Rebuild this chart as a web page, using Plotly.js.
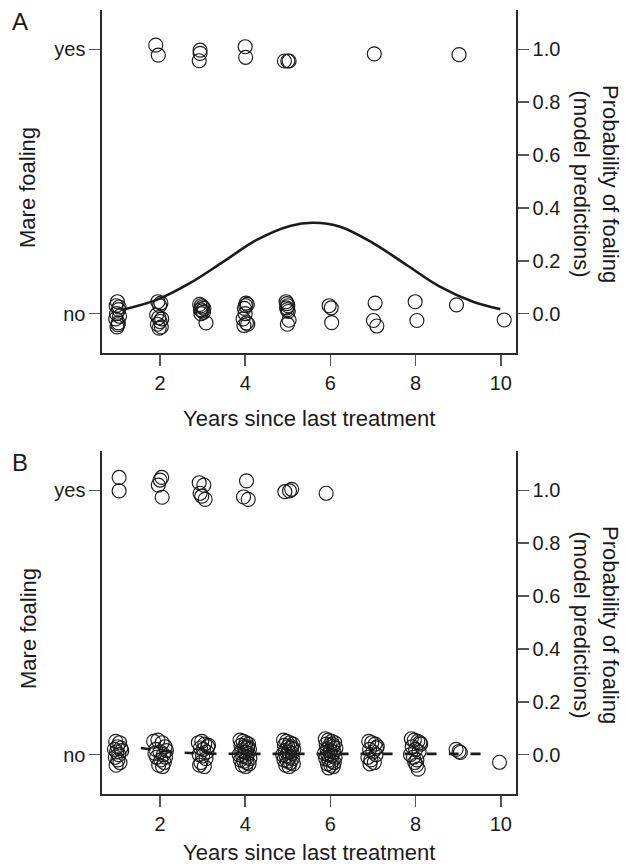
<!DOCTYPE html>
<html>
<head>
<meta charset="utf-8">
<script src="https://cdn.plot.ly/plotly-3.0.1.min.js"></script>
<style>html,body{margin:0;padding:0;background:#fff;}#chart{width:634px;height:868px;}</style>
</head>
<body>
<div id="chart"></div>
<script>
// ---------- Panel A data ----------
const aYesX = [1.90, 1.96, 2.94, 2.94, 2.92, 4.00, 4.01, 4.92, 5.00, 5.03, 7.03, 9.02];
const aYesY = [1.016, 0.978, 0.997, 0.985, 0.957, 1.010, 0.970, 0.956, 0.956, 0.956, 0.983, 0.980];

const aNoX = [1.00, 0.97, 1.03, 0.98, 1.05, 0.96, 1.02, 0.99, 1.04, 1.01,
              1.95, 2.02, 1.99, 1.92, 1.97, 2.04, 2.00, 1.94, 2.03, 1.98,
              2.93, 2.97, 3.00, 3.03, 2.95, 2.99, 3.02, 2.96, 3.08,
              4.02, 4.05, 3.98, 4.00, 3.95, 4.03, 3.97, 4.06, 4.01,
              4.96, 4.98, 5.00, 4.97, 4.99, 5.01, 5.03, 4.99,
              5.97, 6.02, 6.03,
              7.05, 7.01, 7.09,
              7.99, 8.03,
              8.96,
              10.08];
const aNoY = [0.045, 0.030, 0.015, 0.000, -0.010, -0.020, -0.035, -0.050, 0.025, -0.042,
              0.045, 0.040, 0.030, -0.005, -0.015, -0.020, -0.030, -0.040, -0.050, -0.055,
              0.035, 0.030, 0.025, 0.020, 0.015, 0.010, 0.005, 0.000, -0.035,
              0.040, 0.035, 0.020, 0.000, -0.020, -0.035, -0.045, -0.040, 0.030,
              0.045, 0.038, 0.030, 0.022, 0.015, 0.008, -0.025, -0.040,
              0.030, 0.022, -0.034,
              0.040, -0.026, -0.047,
              0.045, -0.026,
              0.033,
              -0.024];

const aCurveX = [1.10, 1.92, 2.70, 3.49, 4.27, 5.05, 5.60, 6.23, 7.01, 7.79, 8.57, 9.35, 9.99];
const aCurveY = [0.014, 0.052, 0.115, 0.197, 0.279, 0.332, 0.344, 0.329, 0.266, 0.184, 0.102, 0.045, 0.017];

// ---------- Panel B data ----------
const bYesX = [1.04, 1.04, 2.04, 2.00, 1.96, 2.05, 2.92, 3.03, 2.94, 2.98, 3.06, 4.03, 3.96, 4.07, 4.93, 5.04, 5.09, 5.90];
const bYesY = [1.049, 0.998, 1.049, 1.039, 1.020, 0.974, 1.029, 1.020, 0.989, 0.978, 0.966, 1.036, 0.975, 0.966, 0.995, 0.998, 1.004, 0.989];

const bNoX = [0.96, 1.05, 1.00, 0.93, 1.08, 0.98, 1.03, 0.95, 1.10, 1.01, 0.97, 1.06,
              1.85, 1.95, 2.05, 2.12, 1.90, 2.00, 2.08, 2.15, 1.92, 2.02, 2.10, 1.97, 2.06, 1.88, 2.13,
              2.90, 2.98, 3.05, 3.12, 2.95, 3.02, 3.10, 2.92, 3.00, 3.08, 2.96, 3.04, 2.93, 3.14,
              3.88, 3.95, 4.02, 4.08, 3.90, 3.98, 4.05, 4.10, 3.92, 4.00, 4.07, 3.86, 3.94, 4.03, 4.11, 3.89, 3.97, 4.04, 4.09, 3.93, 4.01, 4.06,
              4.90, 4.97, 5.05, 5.12, 4.92, 5.00, 5.08, 5.14, 4.94, 5.02, 5.10, 4.88, 4.96, 5.04, 5.11, 4.91, 4.99, 5.06, 5.13, 4.95, 5.03, 5.09,
              5.88, 5.95, 6.03, 6.10, 5.90, 5.98, 6.06, 6.13, 5.92, 6.00, 6.08, 5.86, 5.94, 6.02, 6.11, 5.89, 5.97, 6.04, 6.09, 5.93, 6.01, 6.07, 5.96, 6.05,
              6.90, 6.97, 7.05, 7.10, 6.92, 7.00, 7.07, 6.88, 6.95, 7.03, 6.93, 7.08,
              7.90, 7.97, 8.05, 8.12, 7.92, 8.00, 8.08, 7.88, 7.95, 8.03, 8.10, 8.02, 8.06, 7.98,
              8.95, 9.02, 9.05,
              9.97];
const bNoY = [0.050, 0.045, 0.030, 0.020, 0.025, 0.010, 0.000, -0.010, 0.015, -0.020, -0.040, -0.030,
              0.050, 0.055, 0.045, 0.030, 0.020, 0.010, 0.000, 0.015, -0.010, -0.020, -0.030, -0.040, -0.045, 0.005, -0.010,
              0.045, 0.050, 0.040, 0.030, 0.025, 0.020, 0.010, 0.000, -0.005, -0.015, -0.030, -0.045, -0.040, 0.035,
              0.055, 0.050, 0.045, 0.040, 0.035, 0.030, 0.025, 0.020, 0.015, 0.010, 0.005, 0.000, -0.005, -0.010, -0.015, -0.020, -0.025, -0.030, -0.035, -0.040, -0.045, 0.030,
              0.055, 0.050, 0.045, 0.040, 0.035, 0.030, 0.025, 0.020, 0.015, 0.010, 0.005, 0.000, -0.005, -0.010, -0.015, -0.020, -0.025, -0.030, -0.035, -0.040, -0.045, 0.030,
              0.060, 0.055, 0.050, 0.045, 0.040, 0.035, 0.030, 0.025, 0.020, 0.015, 0.010, 0.005, 0.000, -0.005, -0.010, -0.015, -0.020, -0.025, -0.030, -0.035, -0.040, -0.045, -0.050, 0.038,
              0.050, 0.045, 0.040, 0.030, 0.020, 0.010, 0.000, -0.010, -0.020, -0.030, -0.035, 0.025,
              0.060, 0.055, 0.050, 0.040, 0.030, 0.020, 0.010, 0.000, -0.010, -0.020, 0.045, -0.040, -0.055, -0.030,
              0.020, 0.012, 0.008,
              -0.029];

const bCurveX = [1.55, 2.00, 2.50, 3.00, 4.00, 5.00, 6.00, 7.00, 8.00, 9.00, 9.75];
const bCurveY = [0.025, 0.015, 0.008, 0.004, 0.003, 0.003, 0.003, 0.003, 0.003, 0.003, 0.003];

// ---------- Labels ----------
const xTicks = [2, 4, 6, 8, 10];
const leftTickVals = [0, 1];
const leftTickText = ['no', 'yes'];
const rightTickVals = [0, 0.2, 0.4, 0.6, 0.8, 1.0];
const rightTickText = ['0.0', '0.2', '0.4', '0.6', '0.8', '1.0'];
const panelLabels = ['A', 'B'];
const xTitle = 'Years since last treatment';
const yLeftTitle = 'Mare foaling';
const yRightTitle = 'Probability of foaling<br>(model predictions)';

// ---------- Styles ----------
const W = 634, H = 868;
const FONT = 'Liberation Sans, Arial, sans-serif';
const INK = '#1a1a1a';
const marker = {symbol: 'circle-open', size: 14, color: INK, line: {width: 1.15, color: INK}};
const axisBase = {
  showline: true, linecolor: '#2a2a2a', linewidth: 1.6,
  ticks: 'outside', ticklen: 11, tickwidth: 1.5, tickcolor: '#555',
  showgrid: false, zeroline: false, fixedrange: true,
  tickfont: {family: FONT, size: 20, color: INK}
};
const xRange = [0.638, 10.357];
const yRange = [-0.149, 1.149];
const domA = [(H - 353) / H, (H - 10) / H];
const domB = [(H - 794) / H, (H - 451) / H];
const domX = [102 / W, 516 / W];

const traces = [
  {x: aYesX, y: aYesY, xaxis: 'x', yaxis: 'y', mode: 'markers', type: 'scatter', marker: marker, hoverinfo: 'skip'},
  {x: aNoX, y: aNoY, xaxis: 'x', yaxis: 'y', mode: 'markers', type: 'scatter', marker: marker, hoverinfo: 'skip'},
  {x: aCurveX, y: aCurveY, xaxis: 'x', yaxis: 'y2', mode: 'lines', type: 'scatter', line: {color: INK, width: 2.6, shape: 'spline'}, hoverinfo: 'skip'},
  {x: bYesX, y: bYesY, xaxis: 'x2', yaxis: 'y3', mode: 'markers', type: 'scatter', marker: marker, hoverinfo: 'skip'},
  {x: bNoX, y: bNoY, xaxis: 'x2', yaxis: 'y3', mode: 'markers', type: 'scatter', marker: marker, hoverinfo: 'skip'},
  {x: bCurveX, y: bCurveY, xaxis: 'x2', yaxis: 'y4', mode: 'lines', type: 'scatter', line: {color: INK, width: 2.6, dash: '10px,12px', shape: 'spline'}, hoverinfo: 'skip'}
];

function xAxis(anchor) {
  return Object.assign({}, axisBase, {domain: domX, range: xRange, anchor: anchor, tickvals: xTicks, ticktext: xTicks.map(String)});
}
function yLeft(dom) {
  return Object.assign({}, axisBase, {domain: dom, range: yRange, tickvals: leftTickVals, ticktext: leftTickText});
}
function yRight(over, anchor) {
  return Object.assign({}, axisBase, {range: yRange, overlaying: over, side: 'right', anchor: anchor, tickvals: rightTickVals, ticktext: rightTickText});
}

const layout = {
  width: W, height: H,
  margin: {l: 0, r: 0, t: 0, b: 0},
  paper_bgcolor: '#fff', plot_bgcolor: '#fff',
  showlegend: false,
  font: {family: FONT, size: 20, color: INK},
  xaxis: xAxis('y'),
  yaxis: Object.assign(yLeft(domA), {anchor: 'x'}),
  yaxis2: yRight('y', 'x'),
  xaxis2: xAxis('y3'),
  yaxis3: Object.assign(yLeft(domB), {anchor: 'x2'}),
  yaxis4: yRight('y3', 'x2'),
  annotations: []
};

const offsets = [0, 441];
const xTitleY = [418, 411];
panelLabels.forEach((lab, i) => {
  const dy = offsets[i];
  const py = v => (H - v - dy) / H;
  layout.annotations.push(
    {text: lab, xref: 'paper', yref: 'paper', x: 10 / W, y: py(22), xanchor: 'left', yanchor: 'middle', showarrow: false, font: {family: FONT, size: 24, color: INK}},
    {text: yLeftTitle, xref: 'paper', yref: 'paper', x: 28 / W, y: py(188), xanchor: 'center', yanchor: 'middle', textangle: -90, showarrow: false, font: {family: FONT, size: 22, color: INK}},
    {text: yRightTitle, xref: 'paper', yref: 'paper', x: 596 / W, y: py(184), xanchor: 'center', yanchor: 'middle', textangle: 90, showarrow: false, font: {family: FONT, size: 22, color: INK}},
    {text: xTitle, xref: 'paper', yref: 'paper', x: 309 / W, y: py(xTitleY[i]), xanchor: 'center', yanchor: 'middle', showarrow: false, font: {family: FONT, size: 22, color: INK}}
  );
});

Plotly.newPlot('chart', traces, layout, {staticPlot: true, displayModeBar: false});
</script>
</body>
</html>
